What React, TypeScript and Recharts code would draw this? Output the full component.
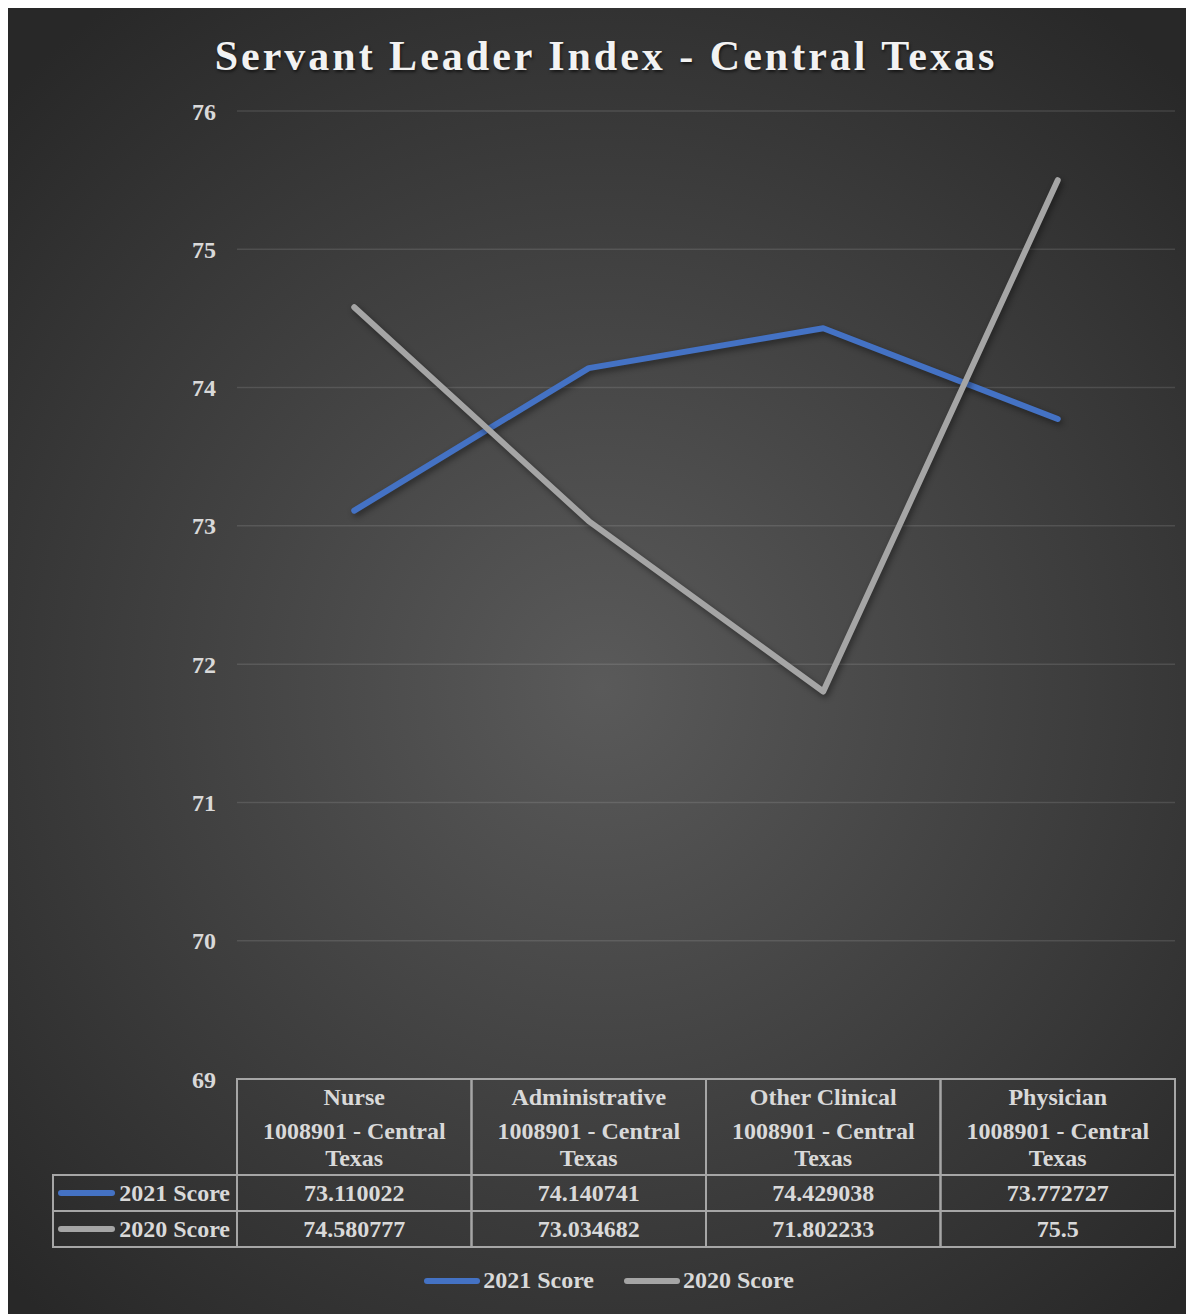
import { LineChart, Line, XAxis, YAxis, CartesianGrid } from 'recharts';

const categories = ['Nurse', 'Administrative', 'Other Clinical', 'Physician'];
const regionLines = ['1008901 - Central', 'Texas'];
const score2021 = [73.110022, 74.140741, 74.429038, 73.772727];
const score2020 = [74.580777, 73.034682, 71.802233, 75.5];
const yTicks = [69, 70, 71, 72, 73, 74, 75, 76];

const series = [
  { key: 'score2021', name: '2021 Score', color: '#4472C4', values: score2021 },
  { key: 'score2020', name: '2020 Score', color: '#A5A5A5', values: score2020 },
];

const rows = categories.map((category, i) => ({
  category,
  score2021: score2021[i],
  score2020: score2020[i],
}));

const W = 1186;
const H = 1306;
const MARGIN = { top: 103, right: 19, bottom: 0, left: 0 };
const Y_AXIS_W = 229;
const PLOT_W = W - MARGIN.left - MARGIN.right - Y_AXIS_W;
const COL_W = PLOT_W / categories.length;
const ROW_HEAD_W = 184;
const X_AXIS_H = 235;

const FONT = "'Liberation Serif', 'Times New Roman', serif";
const TEXT = '#d9d9d9';
const BORDER = '#a6a6a6';

// header row + two value rows of the data table under the plot
const HEAD_H = 96;
const ROW_H = 36;

function TableColumn(props: any) {
  const { x, y, payload, index } = props;
  const left = x - COL_W / 2;
  const bottom = y + HEAD_H + ROW_H * 2;
  const textProps = {
    fill: TEXT,
    fontFamily: FONT,
    fontWeight: 700,
    fontSize: 24,
    textAnchor: 'middle' as const,
    dominantBaseline: 'central' as const,
  };
  return (
    <g>
      {index === 0 && (
        <g>
          <rect
            x={left - ROW_HEAD_W}
            y={y + HEAD_H}
            width={ROW_HEAD_W}
            height={ROW_H * 2}
            fill="none"
            stroke={BORDER}
            strokeWidth={2}
          />
          <line x1={left - ROW_HEAD_W} x2={left} y1={y + HEAD_H + ROW_H} y2={y + HEAD_H + ROW_H} stroke={BORDER} strokeWidth={2} />
          {series.map((s, i) => {
            const cy = y + HEAD_H + ROW_H * i + ROW_H / 2;
            return (
              <g key={s.key}>
                <line x1={left - ROW_HEAD_W + 8} x2={left - ROW_HEAD_W + 59} y1={cy} y2={cy} stroke={s.color} strokeWidth={6} strokeLinecap="round" />
                <text {...textProps} x={left - 7} y={cy} textAnchor="end">
                  {s.name}
                </text>
              </g>
            );
          })}
        </g>
      )}
      <rect x={left} y={y} width={COL_W} height={bottom - y} fill="none" stroke={BORDER} strokeWidth={2} />
      <line x1={left} x2={left + COL_W} y1={y + HEAD_H} y2={y + HEAD_H} stroke={BORDER} strokeWidth={2} />
      <line x1={left} x2={left + COL_W} y1={y + HEAD_H + ROW_H} y2={y + HEAD_H + ROW_H} stroke={BORDER} strokeWidth={2} />
      <text {...textProps} x={x} y={y + 18}>
        {payload.value}
      </text>
      <text {...textProps} x={x} y={y + 52}>
        {regionLines[0]}
      </text>
      <text {...textProps} x={x} y={y + 79}>
        {regionLines[1]}
      </text>
      {series.map((s, i) => (
        <text key={s.key} {...textProps} x={x} y={y + HEAD_H + ROW_H * i + ROW_H / 2}>
          {String(s.values[index])}
        </text>
      ))}
    </g>
  );
}

export default function App() {
  return (
    <div
      style={{
        position: 'relative',
        width: W,
        height: H,
        background: 'radial-gradient(ellipse 70% 65% at 50% 52%, #5a5a5a 0%, #414141 50%, #282828 100%)',
        fontFamily: FONT,
      }}
    >
      <style>{`.recharts-line-curve { filter: drop-shadow(2px 3px 3px rgba(0,0,0,0.45)); }`}</style>
      <div
        style={{
          position: 'absolute',
          top: 24,
          left: 5,
          width: W,
          textAlign: 'center',
          color: '#f2f2f2',
          fontSize: 42,
          fontWeight: 700,
          letterSpacing: 3,
          textShadow: '1px 2px 3px rgba(0,0,0,0.6)',
          zIndex: 1,
        }}
      >
        Servant Leader Index - Central Texas
      </div>
      <LineChart width={W} height={H} data={rows} margin={MARGIN}>
        <CartesianGrid vertical={false} stroke="rgba(217,217,217,0.14)" strokeWidth={1.5} />
        <XAxis
          dataKey="category"
          axisLine={false}
          tickLine={false}
          tickSize={0}
          tickMargin={0}
          interval={0}
          height={X_AXIS_H}
          padding={{ left: COL_W / 2, right: COL_W / 2 }}
          tick={<TableColumn />}
        />
        <YAxis
          domain={[69, 76]}
          ticks={yTicks}
          width={Y_AXIS_W}
          axisLine={false}
          tickLine={false}
          tickSize={0}
          tickMargin={21}
          tick={{ fill: TEXT, fontSize: 24, fontWeight: 700, fontFamily: FONT }}
        />
        {series.map((s) => (
          <Line
            key={s.key}
            type="linear"
            dataKey={s.key}
            name={s.name}
            stroke={s.color}
            strokeWidth={6}
            strokeLinecap="round"
            strokeLinejoin="round"
            dot={false}
            activeDot={false}
            isAnimationActive={false}
          />
        ))}
      </LineChart>
      <div
        style={{
          position: 'absolute',
          top: 1259,
          left: 8,
          width: W,
          display: 'flex',
          justifyContent: 'center',
          gap: 30,
          color: TEXT,
          fontSize: 24,
          fontWeight: 700,
        }}
      >
        {series.map((s) => (
          <div key={s.key} style={{ display: 'flex', alignItems: 'center' }}>
            <span style={{ display: 'inline-block', width: 56, height: 6, borderRadius: 3, background: s.color, marginRight: 3 }} />
            <span>{s.name}</span>
          </div>
        ))}
      </div>
    </div>
  );
}
